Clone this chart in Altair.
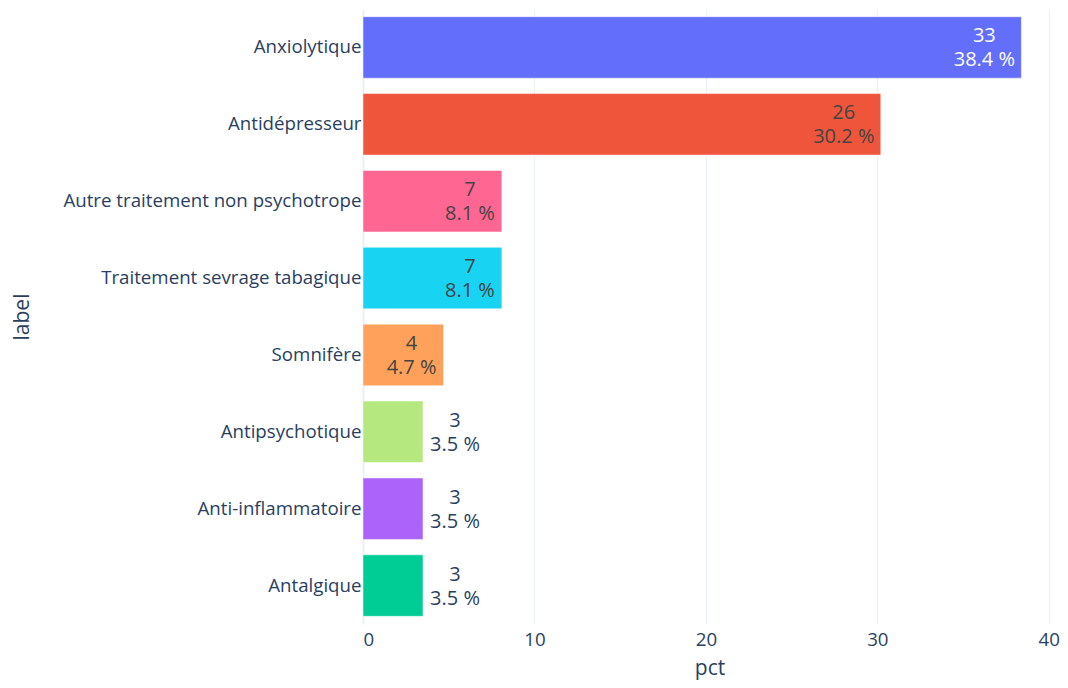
import altair as alt
import pandas as pd

labels = ["Anxiolytique", "Antidépresseur", "Autre traitement non psychotrope",
          "Traitement sevrage tabagique", "Somnifère", "Antipsychotique",
          "Anti-inflammatoire", "Antalgique"]
counts = [33, 26, 7, 7, 4, 3, 3, 3]
pcts = [38.4, 30.2, 8.1, 8.1, 4.7, 3.5, 3.5, 3.5]
colors = ["#636EFA", "#EF553B", "#FF6692", "#19D3F3", "#FFA15A", "#B6E880", "#AB63FA", "#00CC96"]
x_ticks = [0, 10, 20, 30, 40]

df = pd.DataFrame({"label": labels, "count": counts, "pct": pcts})
df["txt"] = [f"{c}\n{p} %" for c, p in zip(counts, pcts)]

FONT = "Open Sans"
AXIS_COLOR = "#2a3f5f"
GRID = "#EBF0F8"

base = alt.Chart(df)

y_enc = alt.Y("label:N", sort=labels, title="label",
              scale=alt.Scale(paddingInner=0.2, paddingOuter=0.1),
              axis=alt.Axis(ticks=False, domain=False, grid=False, labelPadding=2,
                            labelLimit=0,
                            labelFontSize=18.7, labelColor=AXIS_COLOR, labelFont=FONT,
                            titleFontSize=21, titleColor=AXIS_COLOR, titleFont=FONT,
                            titleFontWeight="normal", titleX=-341, titleY=307.5,
                            titleAngle=-90, titleAlign="center", titleBaseline="middle"))
x_enc = alt.X("pct:Q", title="pct",
              scale=alt.Scale(domain=[0, 40.42], nice=False, zero=True),
              axis=alt.Axis(values=x_ticks, ticks=False, domain=False, grid=True,
                            gridColor=GRID,
                            gridWidth={"condition": {"test": "datum.value === 0", "value": 2}, "value": 1},
                            labelPadding=6, labelFontSize=18.7, labelColor=AXIS_COLOR, labelFont=FONT,
                            titleFontSize=21, titleColor=AXIS_COLOR, titleFont=FONT,
                            titleFontWeight="normal", titleY=44, titleBaseline="middle"))

bars = base.mark_bar(stroke="white", strokeWidth=0.5).encode(
    x=x_enc,
    y=y_enc,
    color=alt.Color("label:N", scale=alt.Scale(domain=labels, range=colors), legend=None),
)

def text_layer(filt, dx, color):
    return base.transform_filter(filt).mark_text(
        font=FONT, fontSize=20, lineBreak="\n", lineHeight=24, align="center",
        baseline="middle", dx=dx, dy=-11
    ).encode(
        x=alt.X("pct:Q"),
        y=alt.Y("label:N", sort=labels),
        text="txt:N",
        color=color,
    )

inside_color = alt.condition("datum.pct > 35", alt.value("white"), alt.value("#444444"))
t1 = text_layer("datum.pct >= 10", -37, inside_color)
t2 = text_layer("datum.pct >= 4 && datum.pct < 10", -32, alt.value("#444444"))
t3 = text_layer("datum.pct < 4", 32, alt.value(AXIS_COLOR))

chart = alt.layer(bars, t1, t2, t3).properties(
    width=693, height=615,
    autosize=alt.AutoSizeParams(type="none"),
    padding={"left": 355, "top": 1, "right": 4, "bottom": 56},
    background="white",
).configure_view(stroke=None)

chart.save("out.html", embed_options={"renderer": "svg", "actions": False})
